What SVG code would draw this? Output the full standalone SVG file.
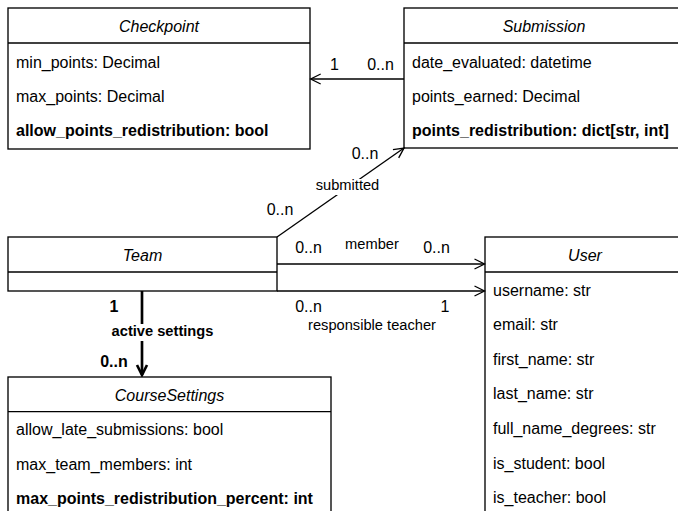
<svg xmlns="http://www.w3.org/2000/svg" width="678" height="511" viewBox="0 0 678 511">
<style>
  .box { fill: #ffffff; stroke: #000000; stroke-width: 1.33; }
  .sep { stroke: #000000; stroke-width: 1.33; fill: none; }
  text { font-family: "Liberation Sans", Arial, sans-serif; fill: #000000; }
  .hdr { font-size: 16px; font-style: italic; text-anchor: middle; }
  .attr { font-size: 16px; }
  .b { font-weight: bold; }
  .mult { font-size: 16px; text-anchor: middle; }
  .lbl { font-size: 14.67px; text-anchor: middle; }
  .edge { stroke: #000000; stroke-width: 1.33; fill: none; }
  .thick { stroke: #000000; stroke-width: 2.67; fill: none; }
  .bg { fill: #ffffff; stroke: none; }
</style>
<defs>
  <marker id="open" viewBox="-12 -7 14 14" refX="0" refY="0" markerWidth="14" markerHeight="14" markerUnits="userSpaceOnUse" orient="auto">
    <path d="M-10,-5 L0,0 L-10,5" fill="none" stroke="#000000" stroke-width="1.33"/>
  </marker>
  <marker id="openThick" viewBox="-12 -7 14 14" refX="0" refY="0" markerWidth="14" markerHeight="14" markerUnits="userSpaceOnUse" orient="auto">
    <path d="M-10,-5 L0,0 L-10,5" fill="none" stroke="#000000" stroke-width="2.67"/>
  </marker>
</defs>
<rect x="0" y="0" width="678" height="511" fill="#ffffff"/>

<g id="Checkpoint">
  <rect class="box" x="8" y="8" width="302" height="141"/>
  <line class="sep" x1="8" y1="43" x2="310" y2="43"/>
  <text class="hdr" x="159" y="32">Checkpoint</text>
  <text class="attr" x="16" y="67.5">min_points: Decimal</text>
  <text class="attr" x="16" y="102">max_points: Decimal</text>
  <text class="attr b" x="16" y="136">allow_points_redistribution: bool</text>
</g>

<g id="Submission">
  <rect class="box" x="404" y="8" width="290" height="140"/>
  <line class="sep" x1="404" y1="43" x2="694" y2="43"/>
  <text class="hdr" x="544" y="32">Submission</text>
  <text class="attr" x="412" y="67.5">date_evaluated: datetime</text>
  <text class="attr" x="412" y="102">points_earned: Decimal</text>
  <text class="attr b" x="412" y="136">points_redistribution: dict[str, int]</text>
</g>

<g id="Team">
  <rect class="box" x="8" y="237" width="269" height="54"/>
  <line class="sep" x1="8" y1="272" x2="277" y2="272"/>
  <text class="hdr" x="142.5" y="260.5">Team</text>
</g>

<g id="User">
  <rect class="box" x="485" y="237" width="210" height="290"/>
  <line class="sep" x1="485" y1="272" x2="695" y2="272"/>
  <text class="hdr" x="585" y="260.5">User</text>
  <text class="attr" x="493" y="295.5">username: str</text>
  <text class="attr" x="493" y="330">email: str</text>
  <text class="attr" x="493" y="364.5">first_name: str</text>
  <text class="attr" x="493" y="399">last_name: str</text>
  <text class="attr" x="493" y="434">full_name_degrees: str</text>
  <text class="attr" x="493" y="468.5">is_student: bool</text>
  <text class="attr" x="493" y="503">is_teacher: bool</text>
</g>

<g id="CourseSettings">
  <rect class="box" x="8" y="377" width="323" height="150"/>
  <line class="sep" x1="8" y1="411.7" x2="331" y2="411.7"/>
  <text class="hdr" x="169.5" y="400.5">CourseSettings</text>
  <text class="attr" x="16" y="435">allow_late_submissions: bool</text>
  <text class="attr" x="16" y="469.5">max_team_members: int</text>
  <text class="attr b" x="16" y="504">max_points_redistribution_percent: int</text>
</g>

<g id="connectors">
  <!-- Submission -> Checkpoint -->
  <line class="edge" x1="404" y1="79" x2="310.7" y2="79" marker-end="url(#open)"/>
  <text class="mult" x="334.5" y="69.5">1</text>
  <text class="mult" x="380.5" y="69.5">0..n</text>

  <!-- Team -> Submission (submitted) -->
  <line class="edge" x1="277" y1="237" x2="404" y2="148" marker-end="url(#open)"/>
  <rect class="bg" x="314" y="179" width="67" height="16"/>
  <text class="lbl" x="347.5" y="190">submitted</text>
  <text class="mult" x="365" y="158.5">0..n</text>
  <text class="mult" x="280" y="215">0..n</text>

  <!-- Team -> User (member) -->
  <line class="edge" x1="277" y1="264" x2="484.5" y2="264" marker-end="url(#open)"/>
  <text class="mult" x="308.5" y="253">0..n</text>
  <text class="lbl" x="372" y="248.5">member</text>
  <text class="mult" x="436.5" y="253">0..n</text>

  <!-- Team -> User (responsible teacher) -->
  <line class="edge" x1="277" y1="291" x2="484.5" y2="291" marker-end="url(#open)"/>
  <text class="mult" x="308.5" y="312">0..n</text>
  <text class="mult" x="445" y="312">1</text>
  <text class="lbl" x="372" y="330">responsible teacher</text>

  <!-- Team -> CourseSettings (active settings) -->
  <line class="thick" x1="142" y1="291" x2="142" y2="375" marker-end="url(#openThick)"/>
  <rect class="bg" x="110" y="324" width="106" height="17"/>
  <text class="lbl b" x="162.5" y="336">active settings</text>
  <text class="mult b" x="114" y="312">1</text>
  <text class="mult b" x="114" y="366.5">0..n</text>
</g>
</svg>
